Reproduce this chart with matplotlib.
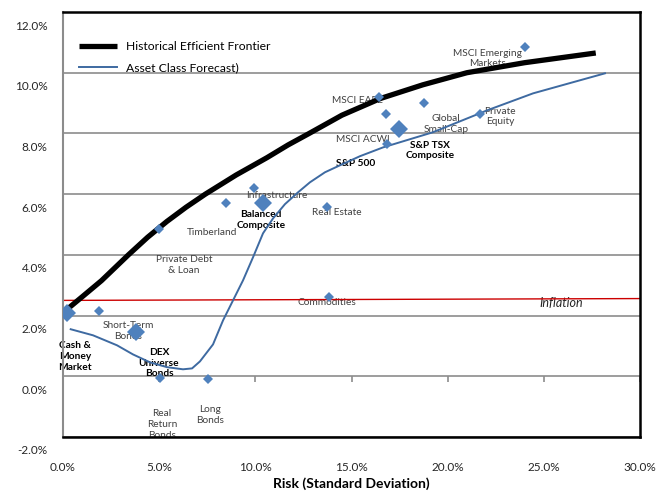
import matplotlib.pyplot as plt
import matplotlib.transforms as mtransforms

plt.rcParams['font.family'] = ['Lato', 'DejaVu Sans']

# Asset classes: risk (std dev, %) and expected return (%)
assets = ['Cash &\nMoney\nMarket', 'Short-Term\nBonds', 'DEX\nUniverse\nBonds',
          'Real\nReturn\nBonds', 'Long\nBonds', 'Private Debt\n& Loan', 'Timberland',
          'Infrastructure', 'Balanced\nComposite', 'Real Estate', 'Commodities',
          'MSCI EAFE', 'S&P 500', 'MSCI ACWI', 'S&P TSX\nComposite',
          'Global\nSmall-Cap', 'Private\nEquity', 'MSCI Emerging\nMarkets']
risk = [0.2, 1.85, 3.8, 5.05, 7.55, 5.0, 8.5, 9.95, 10.4, 13.75, 13.85,
        16.45, 16.8, 16.85, 17.45, 18.75, 21.7, 24.0]
ret = [2.1, 2.15, 1.45, -0.05, -0.08, 4.85, 5.7, 6.2, 5.72, 5.58, 2.6,
       9.2, 8.65, 7.65, 8.13, 9.0, 8.65, 10.85]
composite = [True, False, True, False, False, False, False, False, True, False, False,
             False, False, False, True, False, False, False]
bold_label = [True, False, True, False, False, False, False, False, True, False, False,
              False, True, False, True, False, False, False]

# Historical efficient frontier
frontier_x = [0.2, 1.0, 2.0, 3.4, 4.4, 5.4, 6.4, 7.4, 9.0, 10.6, 11.7, 12.8, 14.5,
              16.5, 18.7, 21.0, 24.0, 27.7]
frontier_y = [2.2, 2.62, 3.15, 4.0, 4.58, 5.1, 5.57, 6.0, 6.63, 7.2, 7.62, 8.0, 8.6,
              9.15, 9.6, 10.0, 10.33, 10.65]

# Asset class forecast curve
forecast_x = [0.40, 1.56, 2.81, 3.64, 4.52, 5.41, 6.24, 6.71, 7.12, 7.80, 8.32, 8.84,
              9.36, 9.88, 10.40, 10.92, 11.54, 12.22, 12.84, 13.62, 14.40, 15.44,
              16.64, 19.24, 22.05, 24.44, 28.18]
forecast_y = [1.55, 1.35, 1.02, 0.72, 0.46, 0.30, 0.23, 0.26, 0.49, 1.05, 1.84, 2.50,
              3.16, 3.92, 4.71, 5.20, 5.67, 6.06, 6.39, 6.72, 6.95, 7.25,
              7.54, 8.04, 8.76, 9.32, 9.98]

# Inflation line
inflation_x = [0, 30]
inflation_y = [2.5, 2.56]

x_ticks = [0, 5, 10, 15, 20, 25, 30]
y_ticks = [-2, 0, 2, 4, 6, 8, 10, 12]

# where each asset label sits (data coords)
label_xy = [(0.62, 0.66), (3.38, 1.48), (4.99, 0.43), (5.15, -1.58), (7.64, -1.28),
            (6.29, 3.66), (7.75, 4.74), (11.13, 5.96), (10.29, 5.14), (14.25, 5.40),
            (13.73, 2.44), (15.29, 9.09), (15.23, 7.02), (15.60, 7.81), (19.08, 7.44),
            (19.91, 8.30), (22.72, 8.56), (22.05, 10.47)]

fig = plt.figure(figsize=(6.69, 4.92), dpi=100)
ax = fig.add_axes([63 / 669, 1 - 437 / 492, 577 / 669, 425 / 492])
ax.set_xlim(0, 30)
ax.set_ylim(-2, 12)

ax.yaxis.grid(True, color='#8c8c8c', linewidth=1.2, zorder=0)
ax.set_axisbelow(True)

# small tick marks hanging below the 0% line
ax.plot(x_ticks, [0] * len(x_ticks), marker=3, linestyle='none', markersize=4,
        markeredgewidth=1.2, color='#8c8c8c', zorder=1)

ax.plot(frontier_x, frontier_y, color='black', linewidth=3.8, solid_capstyle='butt',
        zorder=3, label='Historical Efficient Frontier')
ax.plot(forecast_x, forecast_y, color='#3e6aa1', linewidth=1.4, zorder=3,
        label='Asset Class Forecast)')
ax.plot(inflation_x, inflation_y, color='#cc0000', linewidth=1.0, zorder=2)
ax.text(25.9, 2.40, 'Inflation', fontsize=9, style='italic', color='#262626',
        ha='center', va='center', zorder=1.5)

for name, x, y, big, bold, pos in zip(assets, risk, ret, composite, bold_label, label_xy):
    ax.plot(x, y, marker='D', linestyle='none', color='#4f81bd',
            markersize=9 if big else 4.6, markeredgewidth=0, zorder=4)
    ax.text(pos[0], pos[1], name, fontsize=7.3, ha='center', va='center',
            linespacing=1.25, fontweight='bold' if bold else 'normal',
            color='black' if bold else '#404040', zorder=1.5)

# axes frame
for side in ['top', 'right', 'bottom']:
    ax.spines[side].set_color('black')
    ax.spines[side].set_linewidth(1.8)
ax.spines['left'].set_color('#8c8c8c')
ax.spines['left'].set_linewidth(1.5)

ax.set_xticks(x_ticks)
ax.set_xticklabels(['%.1f%%' % v for v in x_ticks])
ax.set_yticks(y_ticks)
ax.set_yticklabels(['%.1f%%' % v for v in y_ticks])
ax.tick_params(axis='both', length=0, labelsize=8.5, labelcolor='#262626')
ax.tick_params(axis='x', pad=18)
ax.tick_params(axis='y', pad=11)
shift = mtransforms.ScaledTranslation(0, -0.13, fig.dpi_scale_trans)
for lbl in ax.get_yticklabels():
    lbl.set_transform(lbl.get_transform() + shift)

ax.set_xlabel('Risk (Standard Deviation)', fontsize=10, fontweight='bold', labelpad=3)

ax.legend(loc='upper left', bbox_to_anchor=(0.009, 0.957), frameon=False, fontsize=8.7,
          handlelength=3.1, handletextpad=0.75, labelspacing=0.8)

fig.savefig('out.png', dpi=100)
